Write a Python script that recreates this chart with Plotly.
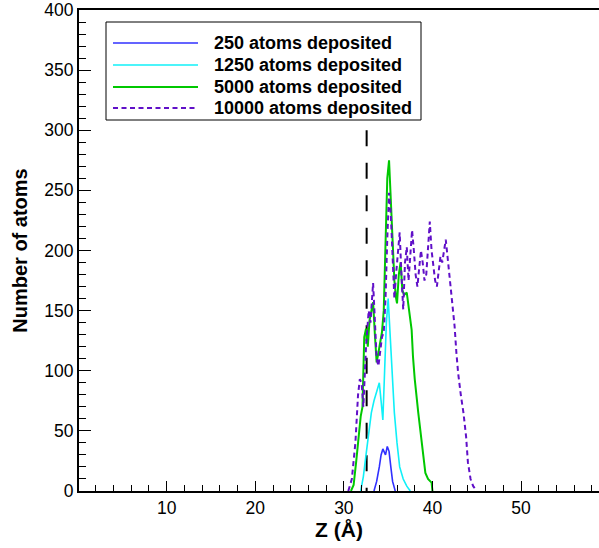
import plotly.graph_objects as go

# --- data (Z in Angstrom, counts) ---
z_250 = [33.4, 33.7, 34.0, 34.2, 34.4, 34.6, 34.7, 34.9, 35.1, 35.3, 35.5, 35.8]
n_250 = [0, 8, 20, 30, 35, 32, 30, 37, 33, 20, 8, 0]

z_1250 = [31.9, 32.2, 32.5, 32.8, 33.1, 33.4, 33.7, 34.0, 34.2, 34.4, 34.6, 34.8,
          35.0, 35.2, 35.4, 35.7, 36.0, 36.3, 36.7, 37.1, 37.5]
n_1250 = [0, 12, 30, 50, 65, 75, 82, 90, 75, 59, 100, 140,
          160, 130, 98, 65, 40, 20, 10, 4, 0]

z_5000 = [30.8, 31.1, 31.4, 31.7, 31.9, 32.1, 32.3, 32.5, 32.7, 32.9, 33.1, 33.3,
          33.5, 33.7, 33.9, 34.1, 34.3, 34.5, 34.7, 34.9, 35.1, 35.3, 35.5, 35.7,
          35.9, 36.0, 36.2, 36.4, 36.6, 36.8, 37.1, 37.4, 37.65, 37.8, 38.0, 38.4,
          38.8, 39.2, 39.5, 39.9, 40.0]
n_5000 = [0, 5, 25, 50, 62, 70, 128, 135, 120, 142, 150, 157,
          130, 107, 115, 125, 132, 150, 200, 260, 275, 240, 200, 175,
          160, 156, 180, 190, 167, 163, 165, 150, 134, 112, 93, 65,
          37, 15, 10, 7, 0]

z_10000 = [30.5, 30.9, 31.3, 31.6, 31.8, 32.0, 32.2, 32.5, 32.8, 33.0, 33.3, 33.5,
           33.7, 33.9, 34.1, 34.3, 34.5, 34.7, 34.9, 35.1, 35.3, 35.5, 35.7, 35.9,
           36.1, 36.3, 36.5, 36.7, 36.9, 37.1, 37.3, 37.5, 37.7, 37.9, 38.1, 38.3,
           38.5, 38.7, 38.9, 39.1, 39.3, 39.5, 39.7, 39.9, 40.1, 40.3, 40.5, 40.7,
           40.9, 41.1, 41.3, 41.5, 41.7, 41.9, 42.1, 42.3, 42.5, 42.7, 42.9, 43.2,
           43.5, 43.8, 44.0, 44.3, 44.6, 45.0]
n_10000 = [0, 10, 40, 80, 93, 90, 70, 120, 150, 140, 173, 140,
           110, 104, 118, 128, 132, 160, 210, 248, 230, 200, 160, 181,
           200, 215, 180, 151, 190, 203, 175, 195, 217, 200, 180, 170,
           185, 200, 190, 175, 180, 205, 224, 200, 185, 175, 170, 185,
           195, 190, 200, 209, 195, 180, 167, 150, 137, 115, 98, 80,
           65, 45, 24, 10, 4, 0]

labels = ["250 atoms deposited", "1250 atoms deposited",
          "5000 atoms deposited", "10000 atoms deposited"]

interface_z = 32.57    # dashed marker line
interface_top = 300

x_ticks = [10, 20, 30, 40, 50]
y_ticks = [0, 50, 100, 150, 200, 250, 300, 350, 400]

# --- styling ---
W, H = 599, 548
L, R, T, B = 79, 0, 10, 57
FONT = "Liberation Sans, Arial, sans-serif"

styles = [
    dict(color="#3030ff", width=1.6),
    dict(color="#10f0f8", width=1.6),
    dict(color="#00c800", width=2),
    dict(color="#6010c8", width=2, dash="5px,3.5px"),
]
series = [(z_250, n_250), (z_1250, n_1250), (z_5000, n_5000), (z_10000, n_10000)]


def px_x(px):
    return (px - L) / (W - L - R)


def px_y(py):
    return (H - B - py) / (H - T - B)


fig = go.Figure()

for (zs, ns), st, lab in zip(series, styles, labels):
    fig.add_trace(go.Scatter(x=zs, y=ns, mode="lines", name=lab, line=st,
                             showlegend=False))

# dashed vertical marker, pattern starting at the top like the original
fig.add_shape(type="line", xref="x", yref="y",
              x0=interface_z, x1=interface_z, y0=interface_top, y1=0,
              line=dict(color="black", width=2, dash="16px,16.5px"), layer="below")

# hand-made legend (long line samples like the original)
fig.add_shape(type="rect", xref="paper", yref="paper",
              x0=px_x(106), x1=px_x(421), y0=px_y(22), y1=px_y(120),
              line=dict(color="black", width=1), fillcolor="white", layer="above")
rows = [43, 65, 87, 108]
for ry, st, lab in zip(rows, styles, labels):
    fig.add_shape(type="line", xref="paper", yref="paper",
                  x0=px_x(113), x1=px_x(198), y0=px_y(ry), y1=px_y(ry),
                  line=st, layer="above")
    fig.add_annotation(xref="paper", yref="paper", x=px_x(212), y=px_y(ry),
                       xanchor="left", yanchor="middle", showarrow=False,
                       text="<b>%s</b>" % lab,
                       font=dict(family=FONT, size=18, color="black"))

fig.update_layout(
    width=W, height=H,
    margin=dict(l=L, r=R, t=T, b=B, pad=0),
    paper_bgcolor="white", plot_bgcolor="white",
    font=dict(family=FONT, size=17.5, color="black"),
    xaxis=dict(
        range=[0.1, 58.8], tickvals=x_ticks, ticks="inside", ticklen=10,
        tickwidth=1, tickcolor="black",
        minor=dict(dtick=2, tick0=0, ticks="inside", ticklen=6, tickcolor="black"),
        showline=True, linecolor="black", linewidth=2, mirror=True,
        showgrid=False, zeroline=False,
        title=dict(text="<b>Z (Å)</b>", font=dict(size=21), standoff=4),
    ),
    yaxis=dict(
        range=[0, 400], tickvals=y_ticks, ticks="inside", ticklen=12,
        tickwidth=1, tickcolor="black",
        minor=dict(dtick=10, ticks="inside", ticklen=7, tickcolor="black"),
        showline=True, linecolor="black", linewidth=2,
        showgrid=False, zeroline=False,
        title=dict(text="<b>Number of atoms</b>", font=dict(size=20), standoff=11),
    ),
)

# drop the default 8px page margin so the figure sits at the window origin
fig.write_html("out.html", config={"displayModeBar": False},
               post_script="document.body.style.margin='0px';")
